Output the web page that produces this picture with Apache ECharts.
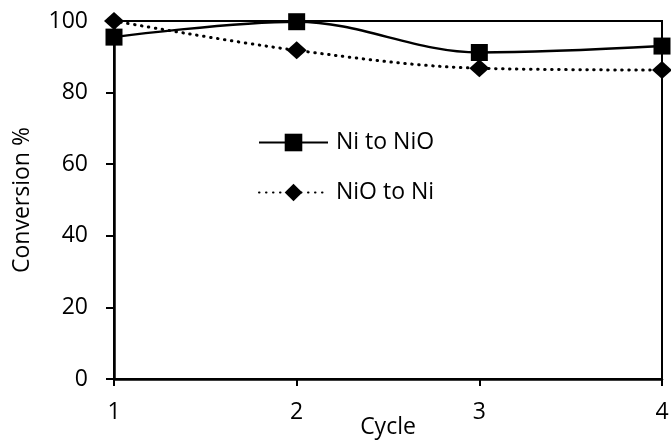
<!DOCTYPE html>
<html>
<head>
<meta charset="utf-8">
<script src="https://cdn.jsdelivr.net/npm/echarts@6/dist/echarts.min.js"></script>
<style>
html,body{margin:0;padding:0;background:#fff;}
#c{width:671px;height:443px;}
</style>
</head>
<body>
<div id="c"></div>
<script>
var cycles = [1, 2, 3, 4];
var niToNiO = [95.5, 99.8, 91.2, 93.0];
var nioToNi = [100, 91.8, 86.8, 86.3];
var yTicks = [0, 20, 40, 60, 80, 100];
var seriesNames = ['Ni to NiO', 'NiO to Ni'];

function pairs(xs, ys) { return xs.map(function (x, i) { return [x, ys[i]]; }); }

var FONT = 'Open Sans';
var chart = echarts.init(document.getElementById('c'), null, { renderer: 'canvas' });
chart.setOption({
  animation: false,
  backgroundColor: '#fff',
  textStyle: { fontFamily: FONT, color: '#000' },
  grid: {
    left: 114, right: 9, top: 21, bottom: 64,
    outerBoundsMode: 'none', containLabel: false,
    show: true, borderColor: '#000', borderWidth: 2, backgroundColor: 'transparent'
  },
  legend: {
    orient: 'vertical', left: 253, top: 126,
    itemWidth: 69, itemHeight: 22, itemGap: 27,
    textStyle: { fontFamily: FONT, fontSize: 23, color: '#000', padding: [0, 0, 0, 3] },
    data: seriesNames
  },
  xAxis: {
    type: 'value', min: cycles[0], max: cycles[cycles.length - 1], interval: 1,
    name: 'Cycle', nameLocation: 'middle', nameGap: 37, nameMoveOverlap: false,
    nameTextStyle: { fontFamily: FONT, fontSize: 23, color: '#000' },
    axisLine: { show: true, lineStyle: { color: '#000', width: 2.5 } },
    axisTick: { show: true, length: 7, lineStyle: { color: '#000', width: 2 } },
    axisLabel: { fontFamily: FONT, fontSize: 23, color: '#000', margin: 22 },
    splitLine: { show: false }
  },
  yAxis: {
    type: 'value', min: yTicks[0], max: yTicks[yTicks.length - 1], interval: 20,
    name: 'Conversion %', nameLocation: 'middle', nameGap: 80, nameRotate: 90, nameMoveOverlap: false,
    nameTextStyle: { fontFamily: FONT, fontSize: 23, color: '#000' },
    axisLine: { show: true, lineStyle: { color: '#000', width: 2.5 } },
    axisTick: { show: true, length: 8, lineStyle: { color: '#000', width: 2 } },
    axisLabel: { fontFamily: FONT, fontSize: 23, color: '#000', margin: 26 },
    splitLine: { show: false }
  },
  series: [
    {
      name: seriesNames[0], type: 'line', smooth: 0.35, clip: false,
      data: pairs(cycles, niToNiO),
      symbol: 'rect', symbolSize: 17,
      itemStyle: { color: '#000' },
      lineStyle: { color: '#000', width: 2.4 }
    },
    {
      name: seriesNames[1], type: 'line', smooth: 0.35, clip: false,
      data: pairs(cycles, nioToNi),
      symbol: 'diamond', symbolSize: [20, 18],
      itemStyle: { color: '#000' },
      lineStyle: { color: '#000', width: 3, type: [0.5, 6.5], cap: 'round' }
    }
  ]
});
</script>
</body>
</html>
